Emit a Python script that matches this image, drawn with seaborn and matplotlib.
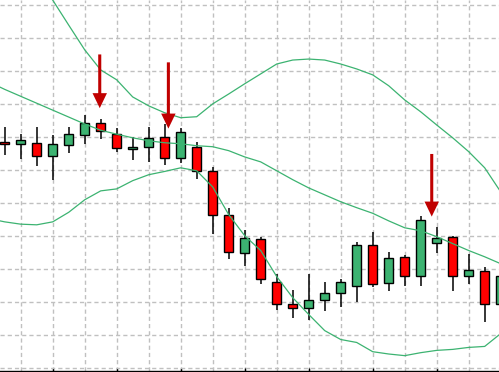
import numpy as np
import pandas as pd
import matplotlib
matplotlib.use("Agg")
import matplotlib.pyplot as plt
import seaborn as sns
from matplotlib.patches import FancyArrowPatch, ArrowStyle

# ---- data (candles) ----
candle_idx = list(range(32))
opens = [168.5, 167.8, 168.1, 164.2, 167.5, 170.5, 174.2, 170.9, 166.2, 166.8,
         169.9, 163.5, 166.9, 159.6, 146.3, 134.9, 139.1, 126.0, 119.3, 118.1,
         120.5, 122.6, 124.8, 137.2, 125.7, 133.5, 127.8, 137.8, 139.7, 127.8,
         129.4, 119.3]
highs = [172.9, 170.9, 172.9, 170.5, 172.9, 176.5, 175.5, 172.7, 170.0, 172.9,
         173.9, 172.6, 168.4, 160.8, 148.4, 141.7, 139.5, 128.5, 123.6, 128.5,
         126.1, 127.0, 138.1, 141.1, 135.2, 134.2, 146.1, 142.6, 140.0, 134.3,
         130.4, 129.7]
lows = [164.5, 163.4, 161.0, 157.0, 165.2, 167.8, 169.3, 165.4, 163.1, 162.4,
        161.6, 162.0, 157.3, 140.6, 133.0, 130.9, 125.3, 117.4, 114.9, 114.3,
        117.1, 118.3, 119.8, 124.3, 123.1, 124.8, 124.8, 134.9, 123.1, 125.2,
        113.7, 117.0]
closes = [167.7, 169.0, 164.2, 167.8, 170.8, 174.2, 171.7, 166.5, 166.9, 169.6,
          163.6, 171.6, 159.5, 146.2, 135.2, 139.3, 126.9, 119.3, 118.1, 120.6,
          122.6, 126.0, 137.2, 125.4, 133.2, 127.8, 144.8, 139.3, 127.8, 129.7,
          119.2, 127.9]

# ---- data (Bollinger bands) ----
band_idx = list(range(-1, 32))
upper = [241.8, 232.7, 225.2, 218.2, 211.5, 203.9, 196.4, 190.3, 187.3, 182.1,
         179.4, 177.3, 175.8, 176.1, 180.0, 183.0, 186.1, 189.1, 192.1, 193.3,
         193.6, 193.3, 192.1, 190.6, 188.8, 185.5, 181.2, 177.6, 173.6, 169.7,
         165.5, 160.6, 153.3]
middle = [186.7, 184.4, 182.3, 180.2, 178.1, 176.0, 173.9, 172.0, 170.8, 169.7,
          168.8, 168.2, 167.9, 167.3, 167.0, 165.8, 163.9, 162.4, 159.7, 157.0,
          154.5, 152.4, 150.3, 148.5, 146.8, 144.5, 142.4, 141.5, 139.7, 137.6,
          135.5, 133.6, 131.5]
lower = [145.2, 144.2, 143.5, 143.3, 144.2, 147.1, 150.9, 153.6, 154.2, 156.7,
         158.5, 159.5, 160.6, 159.7, 154.8, 146.4, 140.0, 135.5, 127.6, 121.2,
         116.1, 111.2, 108.5, 107.6, 104.8, 104.1, 103.6, 104.5, 105.2, 105.5,
         106.1, 106.4, 110.3]

# ---- data (signal arrows) ----
arrow_x = [5.94, 10.23, 26.69]
arrow_tail = [195.0, 192.6, 164.8]
arrow_tip = [178.7, 172.5, 145.8]

GREEN = "#3cb371"
RED = "#ff0000"
ARROW = "#c00000"
GRID = "#c0c0c0"

sns.set_style("white")
fig = plt.figure(figsize=(4.99, 3.72), dpi=100)
ax = fig.add_axes([0, 0.004, 1, 0.996])

df = pd.DataFrame({"i": candle_idx, "o": opens, "h": highs, "l": lows, "c": closes})
is_up = df["c"] >= df["o"]
colors = np.where(is_up, GREEN, RED)

ax.vlines(df["i"], df["l"], df["h"], color="black", lw=1.1, zorder=2)
ax.bar(df["i"], (df["c"] - df["o"]).abs(), bottom=np.minimum(df["o"], df["c"]),
       width=0.56, color=colors, edgecolor="black", linewidth=1.0, zorder=3)

bands = pd.DataFrame({"i": band_idx, "upper": upper, "middle": middle, "lower": lower})
for name in ["upper", "middle", "lower"]:
    sns.lineplot(data=bands, x="i", y=name, color=GREEN, lw=0.9, ax=ax,
                 legend=False, zorder=4)

for x, t0, t1 in zip(arrow_x, arrow_tail, arrow_tip):
    arr = FancyArrowPatch((x, t0), (x, t1),
                          arrowstyle=ArrowStyle.Simple(head_length=10.8, head_width=10.4, tail_width=2.2),
                          mutation_scale=1, shrinkA=0, shrinkB=0,
                          color=ARROW, lw=0, zorder=5)
    ax.add_patch(arr)

ax.set_xlim(-0.294, 30.894)
ax.set_ylim(99.09, 211.52)

ax.set_xticks([3, 7, 11, 15, 19, 23, 27])
ax.set_xticks(list(range(1, 31, 2)), minor=True)
ax.set_yticks(list(range(100, 211, 10)))
ax.set_xticklabels([])
ax.set_yticklabels([])
ax.set_xlabel("")
ax.set_ylabel("")
ax.tick_params(axis="x", which="major", direction="inout", length=4, width=1, color="black", bottom=True)
ax.tick_params(axis="x", which="minor", length=0)
ax.tick_params(axis="y", length=0)

ax.grid(True, which="both", color=GRID, linestyle=(0, (3, 2.2)), lw=1.0)
ax.set_axisbelow(True)

for s in ["left", "right", "top"]:
    ax.spines[s].set_visible(False)
ax.spines["bottom"].set_color("black")
ax.spines["bottom"].set_linewidth(1.0)

fig.savefig("out.png", dpi=100)
